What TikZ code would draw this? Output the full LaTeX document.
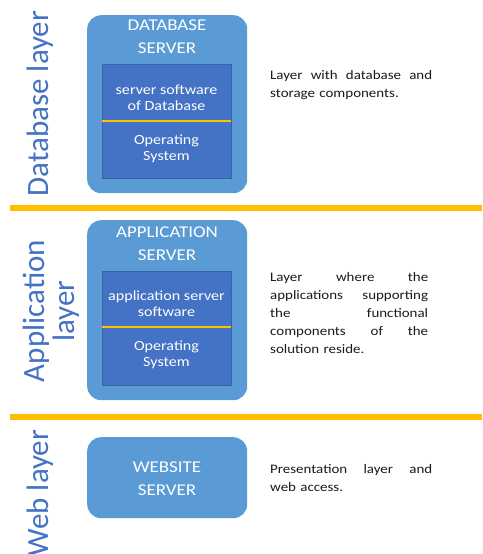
\documentclass[tikz,border=0pt]{standalone}
\usepackage{fontspec}
\setmainfont{Carlito}[FakeStretch=1.15]
\newfontfamily\rotfont{Carlito}
\setlength{\parindent}{0pt}
\definecolor{outerblue}{HTML}{5B9BD5}
\definecolor{innerblue}{HTML}{4472C4}
\definecolor{innerline}{HTML}{3A62A8}
\definecolor{gold}{HTML}{FFC000}
\definecolor{labelblue}{HTML}{4472C4}
\definecolor{desctext}{HTML}{1A1A1A}
\begin{document}
\begin{tikzpicture}[x=1pt,y=-1pt,
  serverbox/.style={fill=outerblue, rounded corners=14pt, inner sep=0, anchor=north west},
  innerbox/.style={fill=innerblue, draw=innerline, line width=0.6pt, inner sep=0, anchor=north west},
  divider/.style={draw=gold, line width=2pt},
  bar/.style={fill=gold},
  titletext/.style={text=white, font=\fontsize{16.5}{22.7}\selectfont, align=center, inner sep=0, anchor=north},
  intext/.style={text=white, font=\fontsize{14}{16}\selectfont, align=center, inner sep=0, anchor=north},
  layerlabel/.style={text=labelblue, font=\rotfont\fontsize{31}{30}\selectfont, rotate=90, inner sep=0, anchor=base},
  desc/.style={text=desctext, font=\fontsize{13}{18}\selectfont, align=left, inner sep=0, anchor=north west}
]
\useasboundingbox (0,0) rectangle (482,554);

% separator bars
\fill[bar] (10,205) rectangle (482,211);
\fill[bar] (10,414) rectangle (482,420);

% ---------- Database layer ----------
\node[serverbox, minimum width=160pt, minimum height=178pt] (dbsrv) at (87,15) {};
\node[innerbox, minimum width=129pt, minimum height=114pt] (dbin) at (102,64) {};
\draw[divider] (102,121) -- (231,121);
\node[titletext] (dbtitle) at (167,20) {DATABASE\\SERVER};
\node[intext] (dbsw) at (166.5,84.5) {server software\\of Database};
\node[intext] (dbos) at (166.5,135) {Operating\\System};
\node[layerlabel] (dblbl) at (48,103.5) {Database layer};
\node[desc, text width=162pt] (dbdesc) at (270,70.2)
  {Layer\hfill with\hfill database\hfill and\\storage components.};

% ---------- Application layer ----------
\node[serverbox, minimum width=160pt, minimum height=180pt] (appsrv) at (87,220) {};
\node[innerbox, minimum width=129pt, minimum height=114pt] (appin) at (102,271) {};
\draw[divider] (102,327) -- (231,327);
\node[titletext] (apptitle) at (167,226.5) {APPLICATION\\SERVER};
\node[intext] (appsw) at (166.5,290.5) {application server\\software};
\node[intext] (appos) at (166.5,341) {Operating\\System};
\node[layerlabel] (applbla) at (44,311) {Application};
\node[layerlabel] (applblb) at (74,311) {layer};
\node[desc, text width=158pt] (appdesc) at (270,272.6)
  {Layer\hfill where\hfill the\\applications\hfill supporting\\the\hfill functional\\components\hfill of\hfill the\\solution reside.};

% ---------- Web layer ----------
\node[serverbox, minimum width=160pt, minimum height=81pt] (websrv) at (87,437) {};
\node[titletext] (webtitle) at (167,461.5) {WEBSITE\\SERVER};
\node[layerlabel] (weblbl) at (48,493) {Web layer};
\node[desc, text width=162pt] (webdesc) at (270,464)
  {Presentation\hfill layer\hfill and\\web access.};
\end{tikzpicture}
\end{document}
